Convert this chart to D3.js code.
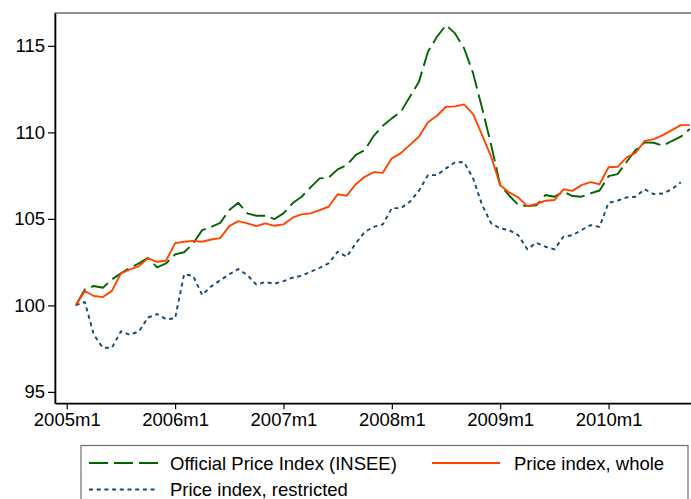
<!DOCTYPE html>
<meta charset="utf-8">
<script src="https://d3js.org/d3.v7.min.js"></script>
<style>
  body { margin: 0; background: #fff; }
  text { font-family: "Liberation Sans", Arial, sans-serif; }
</style>
<div id="chart"></div>
<script>
// months counted from 2005m1 = 0; series start at 2005m2
const startMonth = 1;

const official = [
  100.0, 100.92, 101.12, 101.02, 101.5, 101.85, 102.17, 102.43, 102.75, 102.2, 102.43, 102.95,
  103.07, 103.58, 104.35, 104.54, 104.77, 105.51, 105.93, 105.32, 105.18, 105.18, 104.99, 105.32,
  105.9, 106.28, 106.82, 107.34, 107.38, 107.86, 108.11, 108.69, 108.98, 109.8, 110.38, 110.81,
  111.19, 112.06, 112.92, 114.66, 115.53, 116.2, 115.72, 114.86, 113.41, 111.39, 109.27, 106.95,
  106.35, 105.8, 105.74, 105.78, 106.38, 106.28, 106.57, 106.32, 106.28, 106.47, 106.64, 107.47,
  107.59, 108.3, 108.98, 109.42, 109.4, 109.23, 109.5, 109.75, 110.2
];

const whole = [
  100.0, 100.83, 100.54, 100.48, 100.84, 101.85, 102.08, 102.27, 102.72, 102.52, 102.58, 103.6,
  103.68, 103.73, 103.68, 103.81, 103.89, 104.58, 104.87, 104.74, 104.58, 104.74, 104.6, 104.68,
  105.07, 105.26, 105.32, 105.51, 105.7, 106.42, 106.34, 107.0, 107.43, 107.7, 107.66, 108.5,
  108.8, 109.28, 109.75, 110.58, 110.96, 111.48, 111.5, 111.62, 111.06, 109.84, 108.59, 106.95,
  106.53, 106.24, 105.74, 105.86, 106.05, 106.09, 106.71, 106.62, 106.95, 107.12, 107.0, 107.98,
  108.01, 108.55, 108.82, 109.51, 109.61, 109.84, 110.13, 110.42, 110.42
];

const restricted = [
  100.0, 100.2, 98.3, 97.55, 97.55, 98.5, 98.3, 98.5, 99.3, 99.5, 99.2, 99.25,
  101.8, 101.7, 100.6, 101.1, 101.45, 101.8, 102.1, 101.75, 101.2, 101.35, 101.25, 101.4,
  101.6, 101.71, 101.94, 102.17, 102.43, 103.1, 102.81, 103.58, 104.25, 104.54, 104.68, 105.62,
  105.62, 105.99, 106.62, 107.53, 107.53, 107.92, 108.27, 108.27, 107.34, 105.8, 104.74, 104.45,
  104.35, 104.06, 103.24, 103.62, 103.39, 103.24, 103.97, 104.06, 104.35, 104.64, 104.54, 105.93,
  106.05, 106.24, 106.28, 106.71, 106.43, 106.47, 106.71, 107.12
];

const xTickMonths = [0, 12, 24, 36, 48, 60];
const xTickLabels = ["2005m1", "2006m1", "2007m1", "2008m1", "2009m1", "2010m1"];
const yTicks = [95, 100, 105, 110, 115];

const seriesNames = ["Official Price Index (INSEE)", "Price index, whole", "Price index, restricted"];

const width = 691, height = 499;
const fontSize = "18.5px";

const svg = d3.select("#chart")
  .append("svg")
  .attr("width", width)
  .attr("height", height);

const x = d3.scaleLinear().domain([-1.3, 69.35]).range([55, 693]);
const y = d3.scaleLinear().domain([94.34, 116.9]).range([403.3, 13]);

// plot region outline
svg.append("rect")
  .attr("x", 55).attr("y", 13)
  .attr("width", 640).attr("height", 390.3)
  .attr("fill", "none")
  .attr("stroke", "#6e6e6e")
  .attr("stroke-width", 1.5);

// axes
const yAxis = svg.append("g")
  .attr("transform", "translate(55,0)")
  .call(d3.axisLeft(y).tickValues(yTicks).tickSize(7).tickSizeOuter(0).tickPadding(3));

const xAxis = svg.append("g")
  .attr("transform", "translate(0,403.3)")
  .call(d3.axisBottom(x).tickValues(xTickMonths).tickSize(6).tickSizeOuter(0).tickPadding(4)
    .tickFormat((d, i) => xTickLabels[i]));

[yAxis, xAxis].forEach(function (ax) {
  ax.select(".domain").attr("stroke", "#000").attr("stroke-width", 1.6);
  ax.selectAll(".tick line").attr("stroke", "#000").attr("stroke-width", 1.2);
  ax.selectAll(".tick text").attr("fill", "#000").style("font-size", fontSize)
    .style("font-family", '"Liberation Sans", Arial, sans-serif');
});

const line = d3.line()
  .x((d, i) => x(startMonth + i))
  .y(d => y(d));

const styles = [
  { data: official, color: "#006400", dash: "19,6" },
  { data: whole, color: "#ff4500", dash: null },
  { data: restricted, color: "#1a476f", dash: "4,3.7" }
];

// draw restricted first, then official, then whole on top
[2, 0, 1].forEach(function (k) {
  const s = styles[k];
  svg.append("path")
    .datum(s.data)
    .attr("fill", "none")
    .attr("stroke", s.color)
    .attr("stroke-width", 1.9)
    .attr("stroke-dasharray", s.dash)
    .attr("stroke-linejoin", "round")
    .attr("d", line);
});

// legend
const legend = svg.append("g");
legend.append("rect")
  .attr("x", 81).attr("y", 445.5)
  .attr("width", 607).attr("height", 70)
  .attr("fill", "#fff")
  .attr("stroke", "#6e6e6e")
  .attr("stroke-width", 1.2);

const legendPos = [
  { x1: 89, x2: 158, y: 463, tx: 170 },
  { x1: 432, x2: 500, y: 463, tx: 514 },
  { x1: 89, x2: 158, y: 489.5, tx: 170 }
];

legendPos.forEach(function (p, k) {
  const s = styles[k];
  legend.append("line")
    .attr("x1", p.x1).attr("x2", p.x2)
    .attr("y1", p.y).attr("y2", p.y)
    .attr("stroke", s.color)
    .attr("stroke-width", 1.8)
    .attr("stroke-dasharray", s.dash);
  legend.append("text")
    .attr("x", p.tx).attr("y", p.y)
    .attr("dy", "0.36em")
    .style("font-size", fontSize)
    .attr("fill", "#000")
    .text(seriesNames[k]);
});
</script>
